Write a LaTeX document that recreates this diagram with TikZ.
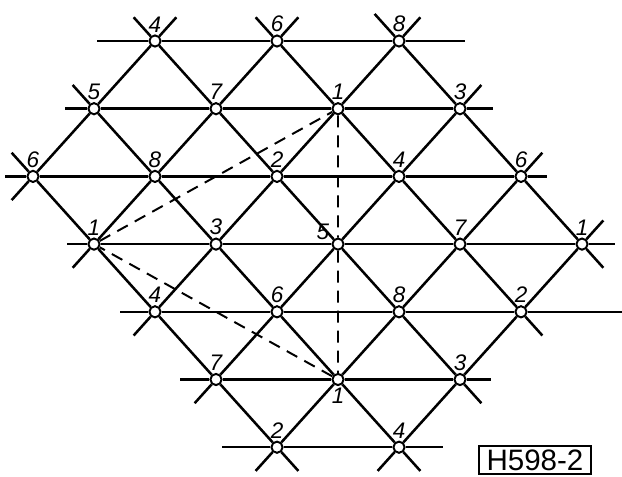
\documentclass[tikz,border=0pt]{standalone}
\usepackage{fontspec}
\setsansfont{Liberation Sans}
\usetikzlibrary{calc}
\tikzset{
  lattice/.style={line width=1.8pt},
  pt/.style={circle,draw,fill=white,line width=1.4pt,inner sep=0pt,minimum size=0.28cm,label distance=0pt},
  lbl/.style={font=\sffamily\itshape\fontsize{16}{16}\selectfont,inner sep=1.5pt},
  link/.style={line width=1.4pt,dash pattern=on 0.3cm off 0.2cm},
  tag/.style={draw,line width=1.3pt,inner sep=0pt,minimum width=2.8cm,minimum height=0.72cm,font=\sffamily\fontsize{21}{21}\selectfont},
}

\begin{document}
\begin{tikzpicture}[x=0.025cm,y=0.025cm]
\path[use as bounding box] (0,0) rectangle (622,476);
% lattice points: row/column/number/label side
\foreach \r/\c/\t/\p in {0/2/4/above,0/4/6/above,0/6/8/above,
  1/1/5/above,1/3/7/above,1/5/1/above,1/7/3/above,
  2/0/6/above,2/2/8/above,2/4/2/above,2/6/4/above,2/8/6/above,
  3/1/1/above,3/3/3/above,3/5/5/165,3/7/7/above,3/9/1/above,
  4/2/4/above,4/4/6/above,4/6/8/above,4/8/2/above,
  5/3/7/above,5/5/1/below,5/7/3/above,
  6/4/2/above,6/6/4/above}
  \node[pt,label={[lbl]\p:\t}] (n\r\c) at ({33+61*\c},{435-67.7*\r}) {};
% rows
\draw[lattice] ($(n02)-(58,0)$) -- (n02) -- (n04) -- (n06) -- ($(n06)+(66,0)$);
\draw[lattice] ($(n11)-(29,0)$) -- (n11) -- (n13) -- (n15) -- (n17) -- ($(n17)+(33,0)$);
\draw[lattice] ($(n20)-(28,0)$) -- (n20) -- (n22) -- (n24) -- (n26) -- (n28) -- ($(n28)+(26,0)$);
\draw[lattice] ($(n31)-(27,0)$) -- (n31) -- (n33) -- (n35) -- (n37) -- (n39) -- ($(n39)+(33,0)$);
\draw[lattice] ($(n42)-(35,0)$) -- (n42) -- (n44) -- (n46) -- (n48) -- ($(n48)+(101,0)$);
\draw[lattice] ($(n53)-(36,0)$) -- (n53) -- (n55) -- (n57) -- ($(n57)+(31,0)$);
\draw[lattice] ($(n64)-(55,0)$) -- (n64) -- (n66) -- ($(n66)+(44,0)$);
% falling diagonals
\draw[lattice] ($(n20)!-.35!(n31)$) -- (n20) -- (n31) -- (n42) -- (n53) -- (n64) -- ($(n64)!-.35!(n53)$);
\draw[lattice] ($(n11)!-.35!(n22)$) -- (n11) -- (n22) -- (n33) -- (n44) -- (n55) -- (n66) -- ($(n66)!-.35!(n55)$);
\draw[lattice] ($(n02)!-.35!(n13)$) -- (n02) -- (n13) -- (n24) -- (n35) -- (n46) -- (n57) -- ($(n57)!-.35!(n46)$);
\draw[lattice] ($(n04)!-.35!(n15)$) -- (n04) -- (n15) -- (n26) -- (n37) -- (n48) -- ($(n48)!-.35!(n37)$);
\draw[lattice] ($(n06)!-.4!(n17)$) -- (n06) -- (n17) -- (n28) -- (n39) -- ($(n39)!-.35!(n28)$);
% rising diagonals
\draw[lattice] ($(n20)!-.35!(n11)$) -- (n20) -- (n11) -- (n02) -- ($(n02)!-.35!(n11)$);
\draw[lattice] ($(n31)!-.35!(n22)$) -- (n31) -- (n22) -- (n13) -- (n04) -- ($(n04)!-.35!(n13)$);
\draw[lattice] ($(n42)!-.35!(n33)$) -- (n42) -- (n33) -- (n24) -- (n15) -- (n06) -- ($(n06)!-.35!(n15)$);
\draw[lattice] ($(n53)!-.35!(n44)$) -- (n53) -- (n44) -- (n35) -- (n26) -- (n17) -- ($(n17)!-.35!(n26)$);
\draw[lattice] ($(n64)!-.35!(n55)$) -- (n64) -- (n55) -- (n46) -- (n37) -- (n28) -- ($(n28)!-.35!(n37)$);
\draw[lattice] ($(n66)!-.35!(n57)$) -- (n66) -- (n57) -- (n48) -- (n39) -- ($(n39)!-.35!(n48)$);
% dashed triangle between the 1s
\draw[link] (n31) -- (n15) -- (n35) -- (n55) -- (n31);
\node[tag] (code) at (535,16) {H598-2};
\end{tikzpicture}
\end{document}
